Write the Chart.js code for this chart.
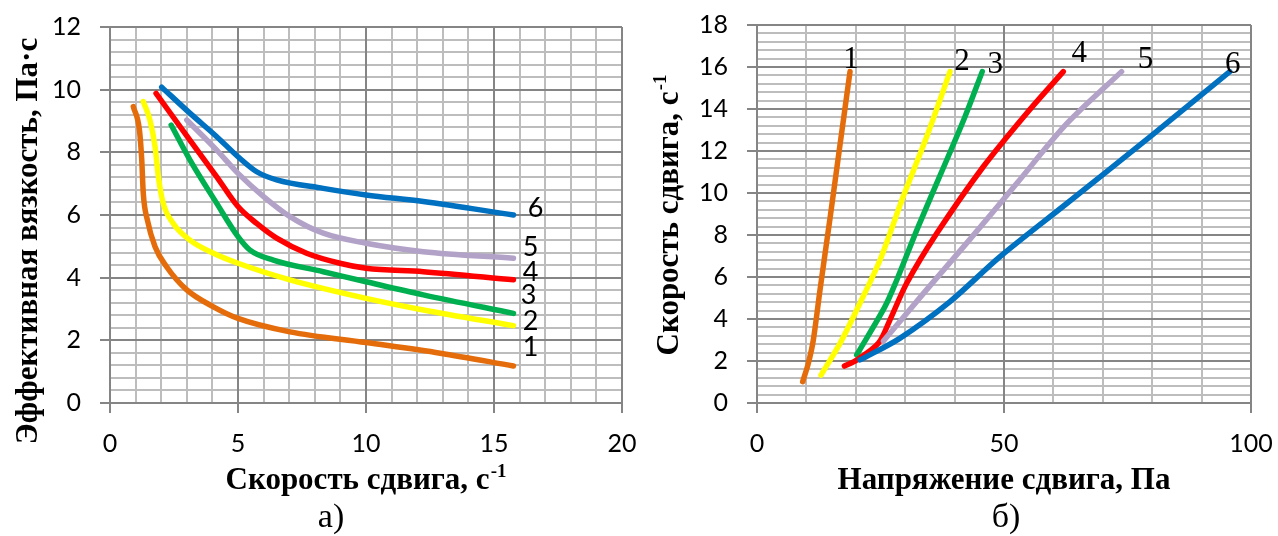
<!DOCTYPE html>
<html>
<head>
<meta charset="utf-8">
<script src="https://cdn.jsdelivr.net/npm/chart.js@4/dist/chart.umd.min.js"></script>
<style>
  html, body { margin: 0; padding: 0; background: #fff; }
  #wrap { position: relative; width: 1278px; height: 536px; overflow: hidden; }
  .panel { position: absolute; top: 0; height: 536px; }
  #panelA { left: 0; width: 640px; }
  #panelB { left: 640px; width: 638px; }
</style>
</head>
<body>
<div id="wrap">
  <div class="panel" id="panelA"><canvas id="chartA" width="640" height="536"></canvas></div>
  <div class="panel" id="panelB"><canvas id="chartB" width="638" height="536"></canvas></div>
</div>
<script>
const curveNames = ['1', '2', '3', '4', '5', '6'];
const curveColors = ['#E46C0A', '#FFFF00', '#00B050', '#FF0000', '#B3A2C7', '#0070C0'];

// а) effective viscosity (Па·с) vs shear rate (с-1)
const rateA1 = [0.91, 1.15, 1.24, 1.30, 1.46, 1.76, 2.21, 3.0, 4.04, 5.0, 7.03, 10.0, 12.9, 15.76];
const viscA1 = [9.46, 8.71, 7.76, 6.69, 5.84, 4.99, 4.35, 3.61, 3.07, 2.70, 2.27, 1.93, 1.59, 1.18];
const rateA2 = [1.30, 1.56, 1.76, 1.89, 2.08, 2.47, 3.12, 4.04, 5.0, 7.03, 10.0, 12.24, 15.76];
const viscA2 = [9.62, 9.03, 8.18, 7.22, 6.37, 5.73, 5.20, 4.78, 4.46, 3.93, 3.34, 2.97, 2.47];
const rateA3 = [2.39, 3.12, 4.17, 5.0, 5.47, 6.38, 8.33, 10.0, 12.24, 15.76];
const viscA3 = [8.87, 7.76, 6.37, 5.31, 4.88, 4.56, 4.19, 3.87, 3.45, 2.86];
const rateA4 = [1.80, 3.12, 4.17, 5.0, 5.73, 6.51, 7.68, 8.98, 10.0, 12.24, 15.76];
const viscA4 = [9.88, 8.39, 7.22, 6.27, 5.73, 5.26, 4.78, 4.46, 4.30, 4.19, 3.93];
const rateA5 = [3.0, 4.17, 5.0, 6.0, 7.03, 8.33, 10.0, 12.24, 15.76];
const viscA5 = [9.03, 8.07, 7.33, 6.59, 5.95, 5.42, 5.10, 4.83, 4.62];
const rateA6 = [2.02, 3.12, 4.17, 5.0, 5.73, 6.51, 8.33, 10.0, 12.24, 15.76];
const viscA6 = [10.08, 9.25, 8.50, 7.86, 7.38, 7.12, 6.85, 6.64, 6.43, 6.0];

// б) shear rate (с-1) vs shear stress (Па)
const stressB1 = [9.25, 10.39, 11.4, 12.75, 14.78, 16.8, 18.83];
const rateB1 = [1.02, 1.89, 3.0, 5.38, 8.79, 12.29, 15.78];
const stressB2 = [12.96, 16.8, 20.18, 24.9, 29.6, 34.35, 39.07];
const rateB2 = [1.33, 2.84, 4.43, 6.81, 9.83, 12.68, 15.78];
const stressB3 = [20.18, 25.9, 28.3, 32.66, 38.4, 42.1, 45.6];
const rateB3 = [2.29, 4.59, 5.86, 8.41, 11.57, 13.63, 15.78];
const stressB4 = [17.7, 20.2, 24.56, 26.9, 30.3, 36.4, 45.8, 54.6, 62.0];
const rateB4 = [1.76, 2.05, 2.84, 3.95, 5.7, 8.08, 11.25, 13.8, 15.78];
const stressB5 = [25.6, 33.7, 42.4, 52.6, 62.7, 73.8];
const rateB5 = [2.95, 5.22, 7.6, 10.46, 13.3, 15.78];
const stressB6 = [20.85, 28.9, 39.07, 49.2, 62.7, 79.6, 95.7];
const rateB6 = [2.05, 3.08, 4.83, 6.97, 9.5, 12.68, 15.78];

const tickFont = { family: 'Lato', size: 25 };
const titleFont = 'bold 31px "Liberation Serif"';
const supFont = 'bold 19px "Liberation Serif"';
const captionFont = '34px "Liberation Serif"';
const majorGrid = '#858585';
const minorGrid = '#bdbdbd';

function fitTo(size) {
  return s => {
    if (s.isHorizontal()) { s.height = size; s.paddingLeft = 0; s.paddingRight = 0; }
    else { s.width = size; s.paddingTop = 0; s.paddingBottom = 0; }
  };
}

function majorScale(axis, min, max, step, size) {
  return {
    type: 'linear', axis, position: axis === 'x' ? 'bottom' : 'left', min, max,
    ticks: { stepSize: step, autoSkip: false, maxRotation: 0, color: '#000', font: tickFont, padding: axis === 'x' ? 16 : 19 },
    grid: { color: majorGrid, lineWidth: 2, tickColor: majorGrid, tickLength: 10, tickWidth: 2 },
    border: { color: majorGrid, width: 2 },
    afterFit: fitTo(size)
  };
}

function minorScale(axis, min, max, step) {
  return {
    type: 'linear', axis, position: axis === 'x' ? 'bottom' : 'left', min, max, z: -1,
    ticks: { stepSize: step, autoSkip: false, display: false },
    grid: { color: minorGrid, lineWidth: 2, drawTicks: false },
    border: { display: false },
    afterFit: fitTo(0)
  };
}

function series(xs, ys) {
  return xs.map((x, i) => ({ x, y: ys[i] }));
}

function supText(ctx, parts, cx, baseY) {
  const [main, sup] = parts;
  ctx.font = titleFont;
  const w1 = ctx.measureText(main).width;
  ctx.font = supFont;
  const w2 = sup ? ctx.measureText(sup).width + 1 : 0;
  const x0 = cx - (w1 + w2) / 2;
  ctx.textAlign = 'left';
  ctx.textBaseline = 'alphabetic';
  ctx.font = titleFont;
  ctx.fillText(main, x0, baseY);
  if (sup) {
    ctx.font = supFont;
    ctx.fillText(sup, x0 + w1 + 1, baseY - 12);
  }
}

const panelText = {
  id: 'panelText',
  afterDraw(chart, args, o) {
    const { ctx, chartArea: a } = chart;
    const xs = chart.scales.x, ys = chart.scales.y;
    ctx.save();
    ctx.fillStyle = '#000';
    ctx.font = o.labelFont;
    ctx.textAlign = 'center';
    ctx.textBaseline = 'middle';
    chart.data.datasets.forEach((ds, i) => {
      const end = ds.data[ds.data.length - 1];
      ctx.fillText(ds.label, xs.getPixelForValue(end.x) + o.labelShift[i][0], ys.getPixelForValue(end.y) + o.labelShift[i][1]);
    });
    supText(ctx, o.xTitle, (a.left + a.right) / 2, o.xTitleY);
    ctx.save();
    ctx.translate(o.yTitleX, o.yTitleY);
    ctx.rotate(-Math.PI / 2);
    supText(ctx, o.yTitle, 0, 0);
    ctx.restore();
    ctx.font = captionFont;
    ctx.textAlign = 'center';
    ctx.textBaseline = 'alphabetic';
    ctx.fillText(o.caption, o.captionX, o.captionY);
    ctx.restore();
  }
};

function makeChart(id, xsList, ysList, scales, padding, smooth, text) {
  return new Chart(document.getElementById(id), {
    type: 'line',
    data: {
      datasets: xsList.map((xs, i) => ({
        label: curveNames[i],
        data: series(xs, ysList[i]),
        borderColor: curveColors[i],
        backgroundColor: curveColors[i],
        borderWidth: 5.5,
        borderCapStyle: 'round',
        borderJoinStyle: 'round',
        pointRadius: 0,
        fill: false,
        ...smooth,
        order: curveNames.length - i
      }))
    },
    options: {
      responsive: false,
      maintainAspectRatio: false,
      devicePixelRatio: 1,
      animation: false,
      events: [],
      layout: { padding },
      scales,
      plugins: { legend: { display: false }, tooltip: { enabled: false }, panelText: text }
    },
    plugins: [panelText]
  });
}

makeChart('chartA',
  [rateA1, rateA2, rateA3, rateA4, rateA5, rateA6],
  [viscA1, viscA2, viscA3, viscA4, viscA5, viscA6],
  {
    xMinor: minorScale('x', 0, 20, 1),
    yMinor: minorScale('y', 0, 12, 0.4),
    x: majorScale('x', 0, 20, 5, 133),
    y: majorScale('y', 0, 12, 2, 110)
  },
  { left: 0, top: 27, right: 18, bottom: 0 },
  { cubicInterpolationMode: 'monotone' },
  {
    labelFont: '27px Lato',
    labelShift: [[17, -19], [17, -4], [15, -18], [17, -8], [17, -11], [22, -7]],
    xTitle: ['Скорость сдвига, с', '-1'], xTitleY: 489,
    yTitle: ['Эффективная вязкость, Па·с'], yTitleX: 37, yTitleY: 241,
    caption: 'а)', captionX: 331, captionY: 527
  }
);

makeChart('chartB',
  [stressB1, stressB2, stressB3, stressB4, stressB5, stressB6],
  [rateB1, rateB2, rateB3, rateB4, rateB5, rateB6],
  {
    xMinor: minorScale('x', 0, 100, 10),
    yMinor: minorScale('y', 0, 18, 0.4),
    x: majorScale('x', 0, 100, 50, 133),
    y: majorScale('y', 0, 18, 2, 117)
  },
  { left: 0, top: 25, right: 27, bottom: 0 },
  { tension: 0.3 },
  {
    labelFont: '31px "Liberation Serif"',
    labelShift: [[1, -12], [12, -10], [13, -7], [16, -18], [24, -12], [3, -7]],
    xTitle: ['Напряжение сдвига, Па'], xTitleY: 489,
    yTitle: ['Скорость сдвига, с', '-1'], yTitleX: 38, yTitleY: 215,
    caption: 'б)', captionX: 366, captionY: 527
  }
);
</script>
</body>
</html>
